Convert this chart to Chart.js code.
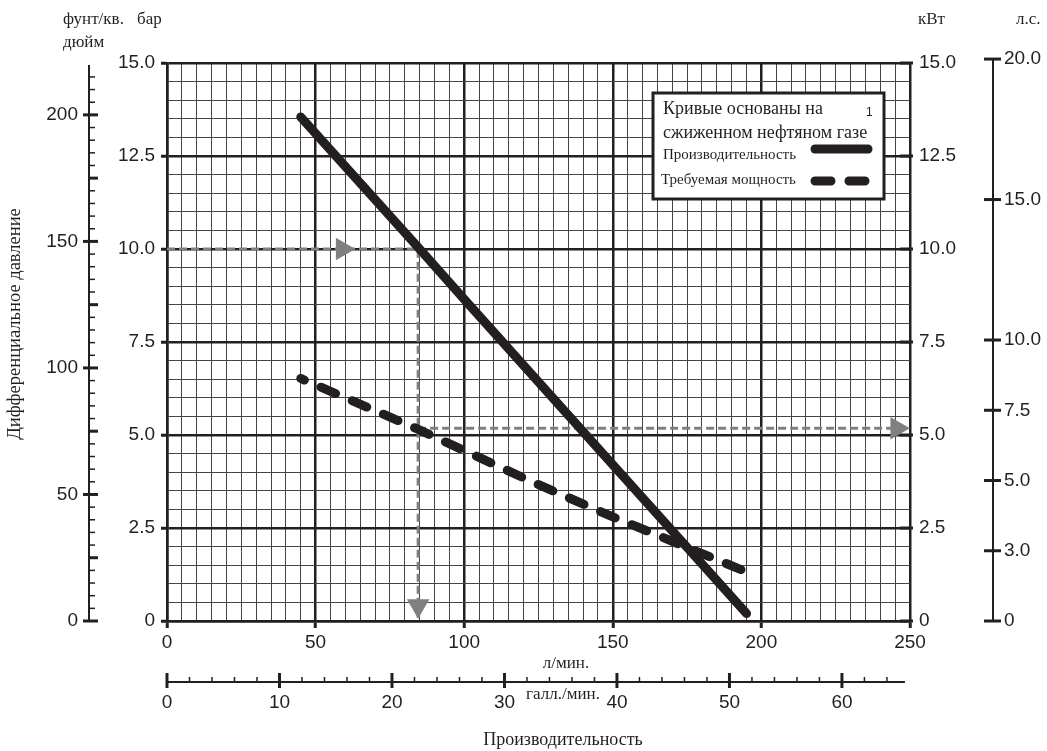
<!DOCTYPE html>
<html>
<head>
<meta charset="utf-8">
<script src="https://cdn.jsdelivr.net/npm/chart.js@4.4.0/dist/chart.umd.min.js"></script>
<style>
  html, body { margin: 0; padding: 0; background: #fff; }
  canvas { display: block; }
</style>
</head>
<body>
<canvas id="chart" width="1047" height="751"></canvas>
<script>
// Производительность: расход (л/мин) -> перепад давления (бар)
const capFlow = [45, 85, 100, 150, 195];
const capBar = [13.55, 10.0, 8.65, 4.2, 0.2];

// Требуемая мощность: расход (л/мин) -> кВт
const powFlow = [45, 84, 124, 150, 195];
const powKw = [6.52, 5.17, 3.70, 2.80, 1.32];

// пример чтения графика (серые стрелки)
const exFlow = 84.5;
const exBar = 10.0;
const exKw = 5.18;
const arrowRight1 = [59, 10.0];
const arrowDown = [84.5, 0.41];
const arrowRight2 = [245.6, 5.18];

// подписи шкал
const barTicks = [0, 2.5, 5, 7.5, 10, 12.5, 15];
const flowTicks = [0, 50, 100, 150, 200, 250];
const psiLabels = [0, 50, 100, 150, 200];
const galLabels = [0, 10, 20, 30, 40, 50, 60];
const kwLabels = [0, 2.5, 5, 7.5, 10, 12.5, 15];
const hpTickValues = [0, 2.5, 5, 7.5, 10, 15, 20];
const hpTickLabels = ['0', '3.0', '5.0', '7.5', '10.0', '15.0', '20.0'];

const ink = '#231f20';
const gridInk = '#444';
const grey = '#808080';
const serif = '"Liberation Serif", "Times New Roman", serif';
const sans = '"Liberation Sans", Arial, sans-serif';

Chart.defaults.font.family = sans;
Chart.defaults.color = ink;

const pts = (xs, ys) => xs.map((x, i) => ({ x: x, y: ys[i] }));
const near = (v, list) => list.some(t => Math.abs(t - v) < 1e-6);

function line(ctx, x1, y1, x2, y2, w) {
  ctx.lineWidth = w;
  ctx.beginPath();
  ctx.moveTo(x1, y1);
  ctx.lineTo(x2, y2);
  ctx.stroke();
}

const fmt = v => v === 0 ? '0' : v.toFixed(1);

// дополнительные шкалы, подписи и легенда
const extras = {
  id: 'extras',
  afterDraw(chart) {
    const { ctx, chartArea: a, scales } = chart;
    ctx.save();
    ctx.strokeStyle = ink;
    ctx.fillStyle = ink;
    ctx.lineCap = 'butt';

    // фунт/кв. дюйм
    const psi = scales.psi;
    const px = a.left - 78;
    line(ctx, px, psi.getPixelForValue(0) + 1, px, a.top + 2, 2);
    for (let v = 0; v <= 215; v += 5) {
      const y = psi.getPixelForValue(v);
      if (v % 50 === 0) line(ctx, px - 6, y, px + 9, y, 3);
      else if (v % 25 === 0) line(ctx, px, y, px + 9, y, 3);
      else line(ctx, px, y, px + 6, y, 1.5);
    }
    ctx.font = '19px ' + sans;
    ctx.textAlign = 'right';
    ctx.textBaseline = 'middle';
    psiLabels.forEach(v => ctx.fillText(String(v), px - 11, psi.getPixelForValue(v)));

    // галл./мин.
    const gal = scales.gal;
    const gy = a.bottom + 61;
    line(ctx, gal.getPixelForValue(0), gy, gal.getPixelForValue(65.6), gy, 2);
    for (let v = 0; v <= 64; v += 2) {
      const x = gal.getPixelForValue(v);
      if (v % 10 === 0) line(ctx, x, gy - 9, x, gy + 6, 3);
      else line(ctx, x, gy - 5, x, gy, 1.5);
    }
    ctx.textAlign = 'center';
    galLabels.forEach(v => ctx.fillText(String(v), gal.getPixelForValue(v), gy + 21));

    // кВт
    const kw = scales.kw;
    ctx.textAlign = 'left';
    kwLabels.forEach(v => {
      const y = kw.getPixelForValue(v);
      line(ctx, a.right - 10, y, a.right + 3, y, 3);
      ctx.fillText(fmt(v), a.right + 9, y);
    });

    // л.с.
    const hp = scales.hp;
    const hx = a.right + 83;
    line(ctx, hx, hp.getPixelForValue(0) + 1, hx, hp.getPixelForValue(20) - 1, 2);
    hpTickValues.forEach((v, i) => {
      const y = hp.getPixelForValue(v);
      line(ctx, hx - 9, y, hx + 8, y, 3);
      ctx.fillText(hpTickLabels[i], hx + 11, y);
    });

    // надписи
    ctx.font = '17px ' + serif;
    ctx.textAlign = 'left';
    ctx.fillText('фунт/кв.', 63, 20);
    ctx.fillText('бар', 137, 20);
    ctx.fillText('дюйм', 63, 43);
    ctx.fillText('кВт', 918, 20);
    ctx.fillText('л.с.', 1016, 20);
    ctx.textAlign = 'center';
    ctx.fillText('л/мин.', 566, 664);
    ctx.fillText('галл./мин.', 563, 695);
    ctx.font = '18px ' + serif;
    ctx.fillText('Производительность', 563, 740);

    ctx.save();
    ctx.translate(15, 324);
    ctx.rotate(-Math.PI / 2);
    ctx.font = '18.5px ' + serif;
    ctx.fillText('Дифференциальное давление', 0, 0);
    ctx.restore();

    // легенда
    const bx = 653, by = 93, bw = 231, bh = 106;
    ctx.fillStyle = '#fff';
    ctx.fillRect(bx, by, bw, bh);
    ctx.strokeStyle = ink;
    ctx.lineWidth = 3;
    ctx.strokeRect(bx, by, bw, bh);
    ctx.fillStyle = ink;
    ctx.textAlign = 'left';
    ctx.font = '18px ' + serif;
    ctx.fillText('Кривые основаны на', bx + 10, by + 16);
    ctx.fillText('сжиженном нефтяном газе', bx + 10, by + 40);
    ctx.font = '12px ' + sans;
    ctx.fillText('1', bx + 213, by + 20);
    ctx.font = '15px ' + serif;
    ctx.fillText('Производительность', bx + 10, by + 62);
    ctx.fillText('Требуемая мощность', bx + 8, by + 87);

    const ds = chart.data.datasets;
    ctx.lineCap = 'round';
    ctx.strokeStyle = ds[0].borderColor;
    line(ctx, bx + 162, by + 56, bx + 215, by + 56, ds[0].borderWidth);
    ctx.setLineDash(ds[1].borderDash);
    ctx.strokeStyle = ds[1].borderColor;
    ctx.lineWidth = ds[1].borderWidth;
    ctx.beginPath();
    ctx.moveTo(bx + 162, by + 88);
    ctx.lineTo(bx + 215, by + 88);
    ctx.stroke();
    ctx.restore();
  }
};

const majorX = v => Math.abs(v % 50) < 1e-6;
const majorY = v => near(v, barTicks);

new Chart(document.getElementById('chart'), {
  type: 'line',
  data: {
    datasets: [
      {
        label: 'Производительность',
        data: pts(capFlow, capBar),
        borderColor: ink,
        borderWidth: 9,
        borderCapStyle: 'round',
        pointRadius: 0,
        yAxisID: 'y'
      },
      {
        label: 'Требуемая мощность',
        data: pts(powFlow, powKw),
        borderColor: ink,
        borderWidth: 9,
        borderDash: [16, 18],
        borderDashOffset: 12,
        borderCapStyle: 'round',
        pointRadius: 0,
        yAxisID: 'kw'
      },
      {
        data: [{ x: 0, y: exBar }, { x: exFlow, y: exBar }, { x: exFlow, y: 0 }],
        borderColor: grey,
        borderWidth: 3,
        borderDash: [8, 4],
        pointRadius: 0,
        yAxisID: 'y'
      },
      {
        data: [{ x: exFlow, y: exKw }, { x: 250, y: exKw }],
        borderColor: grey,
        borderWidth: 3,
        borderDash: [8, 4],
        pointRadius: 0,
        yAxisID: 'kw'
      },
      {
        type: 'scatter',
        data: [
          { x: arrowRight1[0], y: arrowRight1[1] },
          { x: arrowRight2[0], y: arrowRight2[1] }
        ],
        pointStyle: 'triangle',
        rotation: 90,
        pointRadius: 13,
        backgroundColor: grey,
        borderWidth: 0,
        yAxisID: 'y'
      },
      {
        type: 'scatter',
        data: [{ x: arrowDown[0], y: arrowDown[1] }],
        pointStyle: 'triangle',
        rotation: 180,
        pointRadius: 13,
        backgroundColor: grey,
        borderWidth: 0,
        yAxisID: 'y'
      }
    ]
  },
  options: {
    responsive: false,
    animation: false,
    layout: { padding: { left: 87, right: 137, top: 63, bottom: 100 } },
    scales: {
      x: {
        type: 'linear',
        min: 0,
        max: 250,
        afterFit: s => { s.height = 30; },
        border: { display: true, color: ink, width: 2.5 },
        grid: {
          color: c => majorX(c.tick.value) ? ink : gridInk,
          lineWidth: c => majorX(c.tick.value) ? 2.5 : 1,
          tickLength: 7,
          tickColor: c => majorX(c.tick.value) ? ink : 'rgba(0,0,0,0)',
          tickWidth: 3
        },
        ticks: {
          stepSize: 5,
          autoSkip: false,
          maxRotation: 0,
          padding: 3,
          font: { size: 19 },
          color: ink,
          callback: v => near(v, flowTicks) ? String(v) : ''
        }
      },
      y: {
        type: 'linear',
        position: 'left',
        min: 0,
        max: 15,
        afterFit: s => { s.width = 80; },
        border: { display: true, color: ink, width: 2.5 },
        grid: {
          color: c => majorY(c.tick.value) ? ink : gridInk,
          lineWidth: c => majorY(c.tick.value) ? 2.5 : 1,
          tickLength: 6,
          tickColor: c => majorY(c.tick.value) ? ink : 'rgba(0,0,0,0)',
          tickWidth: 3
        },
        ticks: {
          stepSize: 0.5,
          autoSkip: false,
          padding: 6,
          font: { size: 19 },
          color: ink,
          callback: v => majorY(v) ? fmt(v) : ''
        }
      },
      psi: { type: 'linear', position: 'left', display: false, min: 0, max: 220.5 },
      kw: { type: 'linear', position: 'right', display: false, min: 0, max: 15 },
      hp: { type: 'linear', position: 'right', display: false, min: 0, max: 19.86 },
      gal: { type: 'linear', position: 'bottom', display: false, min: 0, max: 66.05 }
    },
    plugins: {
      legend: { display: false },
      tooltip: { enabled: false }
    }
  },
  plugins: [extras]
});
</script>
</body>
</html>
